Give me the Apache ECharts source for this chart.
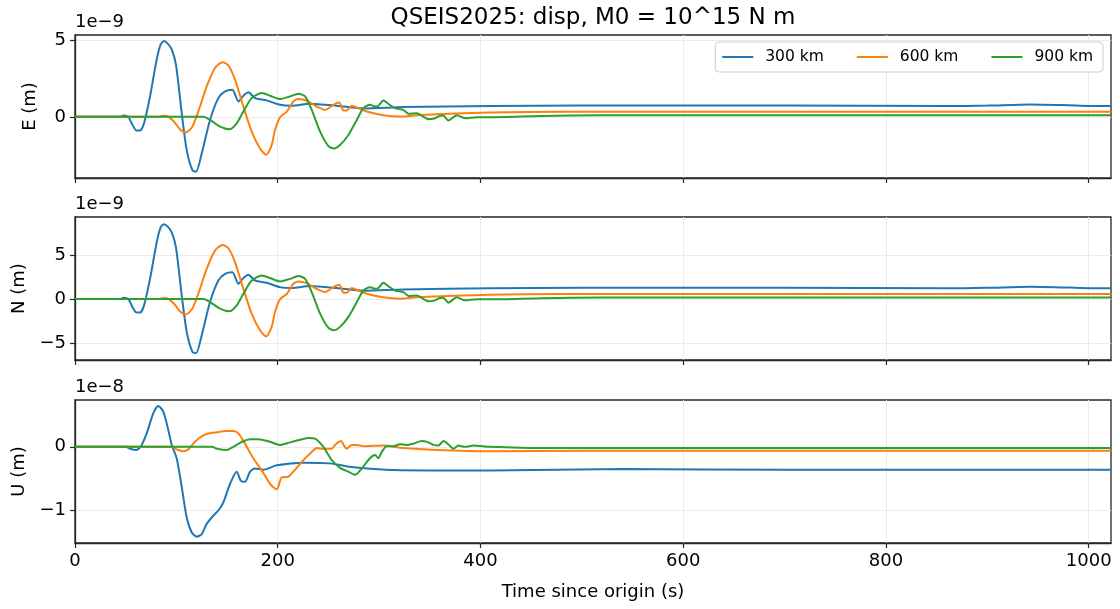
<!DOCTYPE html>
<html>
<head>
<meta charset="utf-8">
<script src="https://cdn.jsdelivr.net/npm/echarts@6/dist/echarts.min.js"></script>
<style>
  html, body { margin: 0; padding: 0; background: #fff; }
  #main { width: 1120px; height: 609px; }
</style>
</head>
<body>
<div id="main"></div>
<script>
// time since origin (s) and displacement, E/N in units of 1e-9 m, U in units of 1e-8 m
var distances = ['300 km', '600 km', '900 km'];
var colors = ['#1f77b4', '#ff7f0e', '#2ca02c'];
var xTicks = [0, 200, 400, 600, 800, 1000];
var eTicks = [0, 5];
var nTicks = [-5, 0, 5];
var uTicks = [-1, 0];

var E300 = [[0,0],[45,0],[47.7,0.09],[52.6,0],[56.5,-0.5],[60.8,-0.9],[64.1,-0.9],[68.1,-0.42],[74,1.34],[80.6,3.76],[84.5,4.75],[87.8,4.97],[91.5,4.8],[95.4,4.42],[99.6,3.43],[105.3,0.24],[110.2,-2.18],[115.8,-3.5],[119.4,-3.6],[125,-2.4],[133.2,-0.2],[141.4,1.23],[148,1.67],[155.2,1.78],[161.2,1.01],[166.1,1.39],[171,1.61],[177.6,1.23],[189.1,1.08],[202.3,0.79],[213.8,0.73],[231.8,0.86],[258.2,0.73],[284.5,0.55],[324,0.64],[409.5,0.72],[500,0.74],[700,0.74],[860,0.71],[900,0.74],[942,0.81],[980,0.76],[1000,0.72],[1022,0.72]];
var E600 = [[0,0],[83,0],[87.8,0.07],[92,0.02],[97.7,-0.31],[104.2,-0.86],[109.2,-1.01],[115.8,-0.64],[123.3,0.68],[129.9,2.0],[138.1,3.21],[145.7,3.59],[151.3,3.37],[157.9,2.44],[166.1,0.68],[174.3,-0.97],[182.5,-2.07],[188.5,-2.48],[194,-1.85],[197.3,-0.86],[202.3,-0.02],[209,0.35],[215.4,1.01],[220.4,1.17],[228.6,1.06],[238.4,0.68],[246.7,0.46],[254.9,0.79],[260.8,0.94],[264.8,0.42],[268,0.42],[273,0.73],[279.6,0.57],[287.8,0.35],[304.2,0.11],[320.7,0.02],[340.4,0.13],[409.5,0.28],[480,0.34],[1022,0.33]];
var E900 = [[0,0],[126.6,0],[133.2,-0.2],[143.1,-0.64],[152.3,-0.81],[159.5,-0.42],[166.1,0.35],[174.3,1.23],[184.2,1.56],[192.4,1.39],[202.3,1.17],[212.1,1.34],[220.4,1.52],[227,1.34],[233.5,0.46],[241.8,-0.97],[250,-1.92],[255.5,-2.07],[261.5,-1.85],[269.7,-1.19],[278,-0.2],[284.5,0.57],[291,0.79],[296,0.68],[299.3,0.73],[304.2,1.08],[309,0.86],[315.7,0.57],[324,0.46],[329,0.2],[337,0.24],[348.6,-0.15],[355.2,-0.09],[360,0.07],[363.4,0.09],[368.3,-0.24],[376.6,0.11],[384.8,-0.09],[396.3,-0.02],[409.5,-0.02],[460,0.06],[520,0.1],[1022,0.1]];

var N300 = [[0,0],[45,0],[47.7,0.15],[52.6,0],[56.5,-0.86],[60.8,-1.54],[64.1,-1.54],[68.1,-0.72],[74,2.29],[80.6,6.43],[84.5,8.12],[87.8,8.5],[91.5,8.21],[95.4,7.56],[99.6,5.87],[105.3,0.41],[110.2,-3.73],[115.8,-5.99],[119.4,-6.16],[125,-4.1],[133.2,-0.34],[141.4,2.1],[148,2.86],[155.2,3.04],[161.2,1.73],[166.1,2.38],[171,2.75],[177.6,2.1],[189.1,1.85],[202.3,1.35],[213.8,1.25],[231.8,1.47],[258.2,1.25],[284.5,0.94],[324,1.09],[409.5,1.23],[500,1.27],[700,1.27],[860,1.21],[900,1.27],[942,1.39],[980,1.3],[1000,1.23],[1022,1.23]];
var N600 = [[0,0],[83,0],[87.8,0.12],[92,0.03],[97.7,-0.53],[104.2,-1.47],[109.2,-1.73],[115.8,-1.09],[123.3,1.16],[129.9,3.42],[138.1,5.49],[145.7,6.14],[151.3,5.76],[157.9,4.17],[166.1,1.16],[174.3,-1.66],[182.5,-3.54],[188.5,-4.24],[194,-3.16],[197.3,-1.47],[202.3,-0.03],[209,0.6],[215.4,1.73],[220.4,2.0],[228.6,1.81],[238.4,1.16],[246.7,0.79],[254.9,1.35],[260.8,1.61],[264.8,0.72],[268,0.72],[273,1.25],[279.6,0.97],[287.8,0.6],[304.2,0.19],[320.7,0.03],[340.4,0.22],[409.5,0.48],[480,0.58],[1022,0.56]];
var N900 = [[0,0],[126.6,0],[133.2,-0.34],[143.1,-1.09],[152.3,-1.39],[159.5,-0.72],[166.1,0.6],[174.3,2.1],[184.2,2.67],[192.4,2.38],[202.3,2.0],[212.1,2.29],[220.4,2.6],[227,2.29],[233.5,0.79],[241.8,-1.66],[250,-3.28],[255.5,-3.54],[261.5,-3.16],[269.7,-2.03],[278,-0.34],[284.5,0.97],[291,1.35],[296,1.16],[299.3,1.25],[304.2,1.85],[309,1.47],[315.7,0.97],[324,0.79],[329,0.34],[337,0.41],[348.6,-0.26],[355.2,-0.15],[360,0.12],[363.4,0.15],[368.3,-0.41],[376.6,0.19],[384.8,-0.15],[396.3,-0.03],[409.5,-0.03],[460,0.1],[520,0.17],[1022,0.18]];

var U300 = [[0,0],[50,0],[54.3,-0.03],[60.2,-0.05],[64.8,0],[70.7,0.21],[77.3,0.53],[82.2,0.64],[87.2,0.55],[92.1,0.26],[95.4,0.03],[100.3,-0.18],[105.3,-0.63],[110.2,-1.11],[115.1,-1.34],[120.1,-1.41],[125,-1.37],[129.9,-1.21],[136.5,-1.08],[141.4,-1.0],[146.4,-0.87],[153,-0.58],[159.5,-0.39],[163.5,-0.53],[167.7,-0.55],[172.7,-0.39],[177.6,-0.34],[185.9,-0.36],[199,-0.29],[225.3,-0.25],[251.6,-0.26],[274.6,-0.32],[307.5,-0.36],[356.9,-0.37],[409.5,-0.37],[540,-0.35],[700,-0.36],[1022,-0.36]];
var U600 = [[0,0],[95,0],[100.3,-0.04],[107,-0.07],[111.8,-0.04],[118.4,0.08],[126.6,0.18],[134.9,0.22],[141.4,0.23],[148,0.25],[156.2,0.25],[161.2,0.21],[167.7,0.05],[175.9,-0.18],[184.2,-0.37],[192.4,-0.58],[199,-0.67],[203.9,-0.48],[210.5,-0.47],[215.4,-0.39],[225.3,-0.21],[233.5,-0.08],[238.4,-0.02],[245,-0.03],[253.3,-0.03],[256.5,0.03],[262.2,0.09],[268,-0.03],[273,0.03],[278,0.03],[284.5,0.01],[304.2,0.02],[324,-0.02],[356.9,-0.05],[409.5,-0.07],[500,-0.06],[1022,-0.06]];
var U900 = [[0,0],[135,0],[140.1,-0.03],[149.9,-0.05],[156.2,0],[164.8,0.08],[172.7,0.12],[181,0.12],[192.4,0.08],[202.3,0.03],[212.1,0.07],[222,0.11],[230.2,0.14],[236.8,0.13],[245,0],[253.3,-0.21],[261.5,-0.33],[269.7,-0.39],[276.3,-0.44],[282.9,-0.34],[291,-0.18],[296,-0.13],[299.3,-0.18],[302.6,-0.08],[307.5,0.01],[314.1,0.01],[320.7,0.04],[327.3,0.03],[333.8,0.05],[342.1,0.09],[348.6,0.07],[353.6,0.03],[358.5,0.02],[363.4,0.09],[368.3,0.04],[373.3,-0.03],[378.2,0.02],[384.8,0],[393,0.02],[409.5,0],[460,-0.02],[1022,-0.02]];

var panels = [
    {name: 'E (m)', exp: '1e\u22129', min: -4.01, max: 5.37, ticks: eTicks, data: [E300, E600, E900]},
    {name: 'N (m)', exp: '1e\u22129', min: -6.92, max: 9.31, ticks: nTicks, data: [N300, N600, N900]},
    {name: 'U (m)', exp: '1e\u22128', min: -1.51, max: 0.735, ticks: uTicks, data: [U300, U600, U900]}
];

var FONT = 'DejaVu Sans';
var frame = '#262626';
var gridTops = [35, 217, 400];
var gridH = 143;

var chart = echarts.init(document.getElementById('main'), null, {renderer: 'canvas'});

var grids = [], xAxes = [], yAxes = [], series = [], graphics = [];
panels.forEach(function (p, i) {
    grids.push({left: 75, right: 9, top: gridTops[i], height: gridH, show: true,
        borderColor: frame, borderWidth: 1.3, backgroundColor: 'transparent'});
    var last = i === panels.length - 1;
    xAxes.push({
        type: 'value', gridIndex: i, min: 0, max: 1022,
        axisLine: {show: true, onZero: false, lineStyle: {color: frame, width: 1.3}},
        axisTick: {show: true, inside: false, length: 5, customValues: xTicks, lineStyle: {color: frame, width: 1.2}},
        axisLabel: {show: last, customValues: xTicks, fontFamily: FONT, fontSize: 18, color: '#000', margin: 9,
            formatter: function (v) { return String(v); }},
        splitLine: {show: true, lineStyle: {color: '#ebebeb', width: 1}},
        name: last ? 'Time since origin (s)' : '',
        nameLocation: 'middle', nameGap: 40,
        nameTextStyle: {fontFamily: FONT, fontSize: 18, color: '#000'}
    });
    yAxes.push({
        type: 'value', gridIndex: i, min: p.min, max: p.max,
        axisLine: {show: true, onZero: false, lineStyle: {color: frame, width: 1.3}},
        axisTick: {show: true, inside: false, length: 5, customValues: p.ticks, lineStyle: {color: frame, width: 1.2}},
        axisLabel: {customValues: p.ticks, fontFamily: FONT, fontSize: 18, color: '#000', margin: 9,
            formatter: function (v) { return String(v).replace('-', '\u2212'); }},
        splitLine: {show: true, lineStyle: {color: '#ebebeb', width: 1}},
        name: p.name, nameLocation: 'middle', nameGap: 36, nameRotate: 90,
        nameTextStyle: {fontFamily: FONT, fontSize: 18, color: '#000'}
    });
    p.data.forEach(function (d, k) {
        series.push({
            name: distances[k], type: 'line', xAxisIndex: i, yAxisIndex: i,
            data: d, showSymbol: false, symbol: 'none', smooth: 0.25,
            lineStyle: {color: colors[k], width: 2}, itemStyle: {color: colors[k]},
            animation: false
        });
    });
    graphics.push({type: 'text', left: 75, top: gridTops[i] - 22,
        style: {text: p.exp, font: '18px "DejaVu Sans"', fill: '#000'}});
});

chart.setOption({
    animation: false,
    title: {text: 'QSEIS2025: disp, M0 = 10^15 N m', left: 588, top: 2, textAlign: 'center',
        textStyle: {fontFamily: FONT, fontSize: 23, fontWeight: 'normal', color: '#000'}},
    legend: {data: distances, right: 17, top: 42, orient: 'horizontal',
        icon: 'rect', itemWidth: 31, itemHeight: 2, itemGap: 33,
        padding: [7, 10, 7, 7], backgroundColor: 'rgba(255,255,255,0.85)',
        borderColor: '#cccccc', borderWidth: 1, borderRadius: 4,
        textStyle: {fontFamily: FONT, fontSize: 15.5, color: '#000', padding: [0, 0, 0, 7]}},
    grid: grids,
    xAxis: xAxes,
    yAxis: yAxes,
    series: series,
    graphic: graphics
});
</script>
</body>
</html>
